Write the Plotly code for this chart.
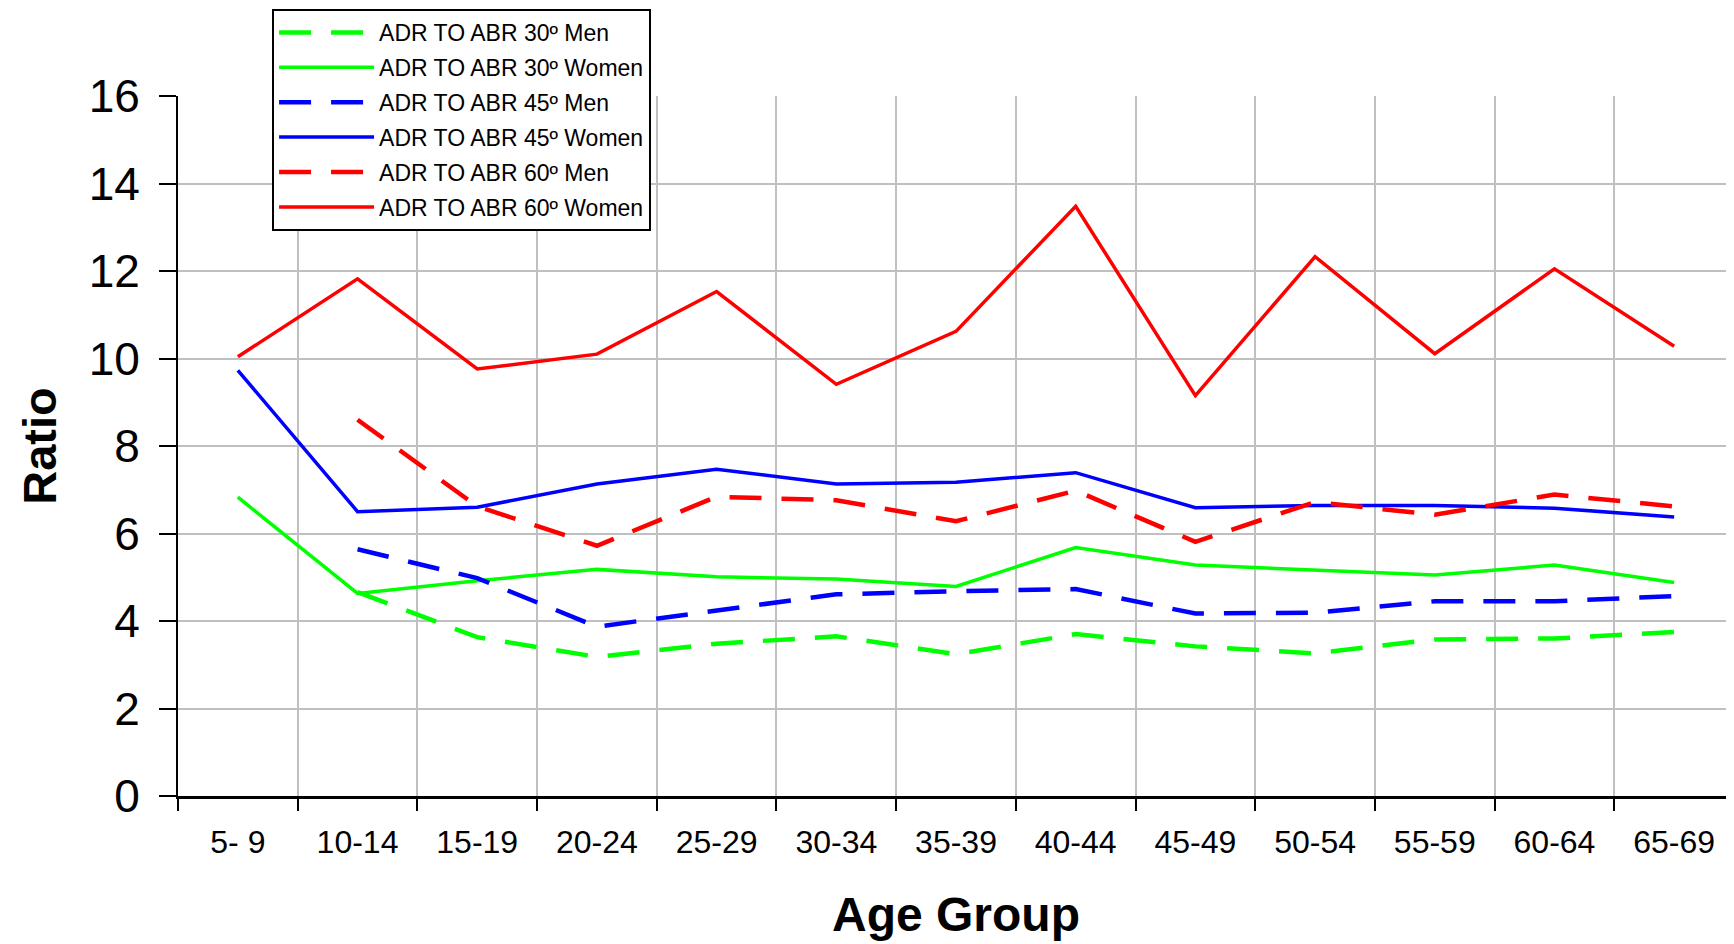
import plotly.graph_objects as go

age_groups = ["5- 9", "10-14", "15-19", "20-24", "25-29", "30-34", "35-39",
              "40-44", "45-49", "50-54", "55-59", "60-64", "65-69"]

men_30 = [None, 4.66, 3.63, 3.18, 3.48, 3.65, 3.24, 3.70, 3.42, 3.26, 3.58, 3.60, 3.75]
women_30 = [6.83, 4.63, 4.92, 5.18, 5.01, 4.96, 4.79, 5.68, 5.28, 5.17, 5.05, 5.28, 4.88]
men_45 = [None, 5.64, 4.98, 3.87, 4.23, 4.61, 4.68, 4.73, 4.17, 4.19, 4.45, 4.45, 4.57]
women_45 = [9.73, 6.50, 6.60, 7.13, 7.47, 7.13, 7.17, 7.39, 6.59, 6.64, 6.64, 6.58, 6.38]
men_60 = [None, 8.60, 6.62, 5.72, 6.84, 6.76, 6.28, 6.98, 5.81, 6.72, 6.43, 6.89, 6.62]
women_60 = [10.04, 11.82, 9.76, 10.10, 11.53, 9.41, 10.62, 13.48, 9.15, 12.33, 10.11, 12.05, 10.28]

series = [
    ("ADR TO ABR 30º Men", men_30, "#00FF00", True),
    ("ADR TO ABR 30º Women", women_30, "#00FF00", False),
    ("ADR TO ABR 45º Men", men_45, "#0000FF", True),
    ("ADR TO ABR 45º Women", women_45, "#0000FF", False),
    ("ADR TO ABR 60º Men", men_60, "#FF0000", True),
    ("ADR TO ABR 60º Women", women_60, "#FF0000", False),
]

FONT = "Arial, Liberation Sans, sans-serif"

fig = go.Figure()
for i, (name, vals, color, dashed) in enumerate(series):
    fig.add_trace(go.Scatter(
        x=age_groups, y=vals, name=name, mode="lines",
        legendgroup=f"g{i}",
        line=dict(color=color, width=4.5 if dashed else 3.5,
                  dash="32px,20px" if dashed else "solid"),
    ))

# page body has an 8px margin, so the figure is sized to fit the 1734x944 window
fig.update_layout(
    width=1726, height=936,
    margin=dict(l=170, r=0, t=88, b=148, autoexpand=False),
    paper_bgcolor="white", plot_bgcolor="white",
    font=dict(family=FONT, color="black"),
    showlegend=True,
    legend=dict(
        xref="container", yref="container",
        x=0.153, y=0.999, xanchor="left", yanchor="top",
        bgcolor="white", bordercolor="black", borderwidth=2,
        font=dict(family=FONT, size=23, color="black"),
        itemwidth=95, tracegroupgap=2,
    ),
    xaxis=dict(
        type="category", range=[-0.5, 12.5],
        tickson="boundaries", ticks="outside", ticklen=12, tickwidth=2, tickcolor="black",
        showgrid=True, gridcolor="#c0c0c0", gridwidth=2,
        showline=True, linecolor="black", linewidth=3,
        tickfont=dict(family=FONT, size=32, color="black"),
        ticklabelstandoff=16,
        title=dict(text="<b>Age Group</b>", font=dict(family=FONT, size=48, color="black"),
                   standoff=38),
    ),
    yaxis=dict(
        range=[0, 16], tickvals=[0, 2, 4, 6, 8, 10, 12, 14, 16],
        ticks="outside", ticklen=17, tickwidth=2, tickcolor="black",
        showgrid=True, gridcolor="#c0c0c0", gridwidth=2,
        zeroline=False,
        showline=True, linecolor="black", linewidth=2,
        tickfont=dict(family=FONT, size=46, color="black"),
        ticklabelstandoff=10,
    ),
    annotations=[dict(
        text="<b>Ratio</b>", textangle=-90, showarrow=False,
        xref="paper", yref="paper", x=-0.0895, y=0.5,
        xanchor="center", yanchor="middle", borderpad=0,
        font=dict(family=FONT, size=47, color="black"),
    )],
)

fig.write_html("out.html")
